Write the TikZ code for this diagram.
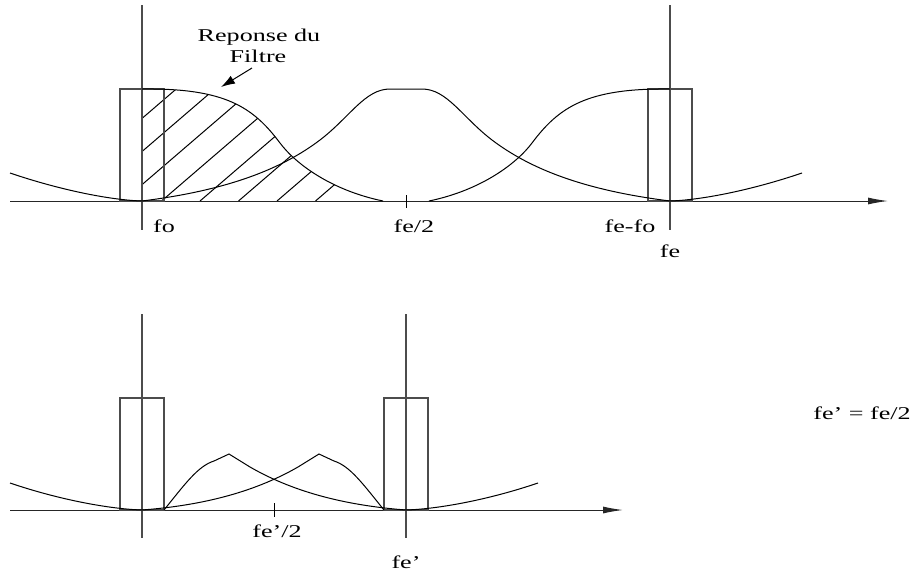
\documentclass[tikz,border=0pt]{standalone}
\usepackage{fontspec}
\setmainfont{Liberation Serif}
\usetikzlibrary{arrows.meta}

\begin{document}
\begin{tikzpicture}[x=0.5pt, y=-0.5pt,
    axe/.style={-{Latex[length=10pt,width=3.5pt]}, line width=0.5pt, black!85},
    trait/.style={line width=1pt, black!70},
    courbe/.style={line width=0.5pt},
    fleche/.style={-{Latex[length=7pt,width=4.5pt]}, line width=0.5pt},
    lbl/.style={font=\fontsize{9}{10.5}\selectfont, xscale=1.45, inner sep=0pt, anchor=base}]
\useasboundingbox (0,0) rectangle (912,574);

% Spectre echantillonne a fe
\begin{scope}
  \clip (142,201) -- (142,89) .. controls (225,88) and (253,107) .. (280,143)
        .. controls (295,163) and (330,190) .. (383,201) -- cycle;
  \foreach \x in {46,84.5,...,330}
    \draw[courbe] (\x,201) -- ++(200,-172);
\end{scope}
\draw[axe] (10,201) -- (888,201);
\draw[trait] (142,5) -- (142,230);
\draw[trait] (670,5) -- (670,230);
\draw[trait] (120,201) rectangle (164,89);
\draw[trait] (648,201) rectangle (692,89);
\draw[courbe] (406,195) -- (406,208);
% reponse du filtre et son image
\draw[courbe] (142,89) .. controls (225,88) and (253,107) .. (280,143)
      .. controls (295,163) and (330,190) .. (383,201);
\draw[courbe] (670,89) .. controls (587,88) and (559,107) .. (532,143)
      .. controls (517,163) and (482,190) .. (429,201);
% bosse centree sur fe/2
\draw[courbe] (142,201) .. controls (230,190) and (283,168) .. (320,140)
      .. controls (350,117) and (365,89) .. (390,89) -- (422,89)
      .. controls (447,89) and (462,117) .. (492,140)
      .. controls (529,168) and (582,190) .. (670,201);
\draw[courbe] (10,173) .. controls (60,190) and (110,200) .. (142,201);
\draw[courbe] (802,173) .. controls (752,190) and (702,200) .. (670,201);

\node[lbl] (rep) at (259,41) {Reponse du};
\node[lbl] (filtre) at (258,62) {Filtre};
\coordinate (queue) at (252,68);
\coordinate (pointe) at (221,87);
\draw[fleche] (queue) -- (pointe);
\node[lbl] (fo) at (164,232) {fo};
\node[lbl] (femi) at (414,232) {fe/2};
\node[lbl] (fefo) at (630,232) {fe-fo};
\node[lbl] (fe) at (670,257) {fe};

% Spectre apres decimation (fe' = fe/2)
\draw[axe] (10,510) -- (623,510);
\draw[trait] (142,314) -- (142,538);
\draw[trait] (406,314) -- (406,538);
\draw[trait] (120,510) rectangle (164,398);
\draw[trait] (384,510) rectangle (428,398);
\draw[courbe] (274,503) -- (274,517);
\draw[courbe] (164,510) .. controls (185,484) and (198,466) .. (214,461)
      -- (229,454) -- (250,467) .. controls (290,490) and (340,505) .. (406,510);
\draw[courbe] (384,510) .. controls (363,484) and (350,466) .. (334,461)
      -- (319,454) -- (298,467) .. controls (258,490) and (208,505) .. (142,510);
\draw[courbe] (10,483) .. controls (60,500) and (110,509) .. (142,510);
\draw[courbe] (538,483) .. controls (488,500) and (438,509) .. (406,510);

\node[lbl] (feprmi) at (277,537) {fe'/2};
\node[lbl] (fepr) at (406,568) {fe'};
\node[lbl] (egal) at (862,419) {fe' = fe/2};
\end{tikzpicture}
\end{document}
